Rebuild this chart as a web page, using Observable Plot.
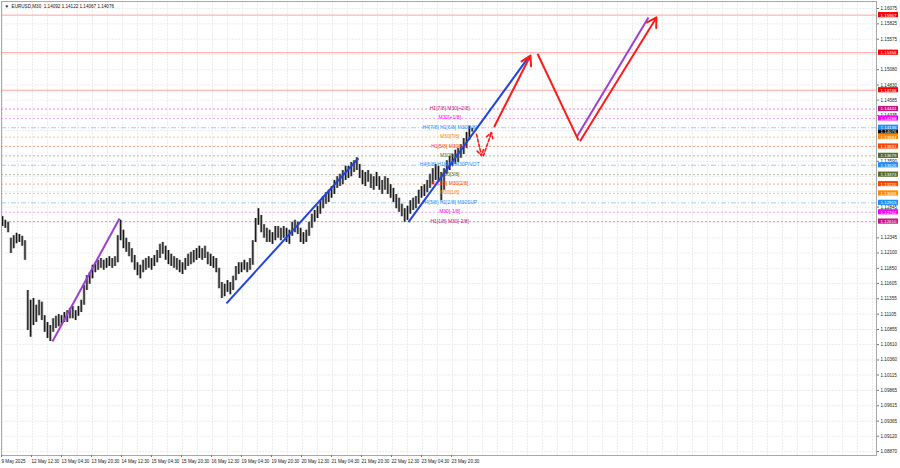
<!DOCTYPE html>
<html><head><meta charset="utf-8">
<script src="https://cdn.jsdelivr.net/npm/d3@7"></script>
<script src="https://cdn.jsdelivr.net/npm/@observablehq/plot@0.6"></script>
<style>html,body{margin:0;padding:0;background:#fff;overflow:hidden}svg{display:block}</style>
</head><body><div id="chart"></div>
<script>
// ---- data ----
const symbolHeader = "▼  EURUSD,M30  1.14092 1.14122 1.14067 1.14076";
const sampleStep = 3; // M30 bars between samples
const highs = [1.1269,1.1263,1.1260,1.1234,1.1238,1.1242,1.1240,1.1237,1.1230,1.1149,
1.1133,1.1136,1.1125,1.1133,1.1130,1.1108,1.1097,1.1092,1.1103,1.1107,
1.1110,1.1108,1.1113,1.1116,1.1120,1.1123,1.1116,1.1123,1.1133,1.1157,
1.1173,1.1178,1.1190,1.1194,1.1198,1.1201,1.1198,1.1201,1.1204,1.1201,
1.1204,1.1238,1.1263,1.1247,1.1234,1.1227,1.1217,1.1206,1.1194,1.1190,
1.1198,1.1201,1.1204,1.1201,1.1206,1.1214,1.1224,1.1227,1.1221,1.1214,
1.1208,1.1204,1.1201,1.1198,1.1194,1.1201,1.1208,1.1211,1.1214,1.1217,
1.1221,1.1217,1.1221,1.1211,1.1208,1.1204,1.1201,1.1185,1.1162,1.1159,
1.1165,1.1162,1.1172,1.1188,1.1194,1.1194,1.1198,1.1194,1.1201,1.1230,
1.1266,1.1282,1.1271,1.1256,1.1250,1.1247,1.1243,1.1253,1.1253,1.1250,
1.1253,1.1250,1.1247,1.1260,1.1263,1.1260,1.1250,1.1243,1.1247,1.1260,
1.1273,1.1279,1.1286,1.1295,1.1302,1.1308,1.1312,1.1318,1.1328,1.1334,
1.1338,1.1344,1.1351,1.1351,1.1357,1.1360,1.1365,1.1354,1.1344,1.1341,
1.1344,1.1338,1.1334,1.1341,1.1334,1.1328,1.1334,1.1331,1.1321,1.1315,
1.1305,1.1299,1.1289,1.1282,1.1286,1.1295,1.1299,1.1302,1.1312,1.1318,
1.1321,1.1328,1.1338,1.1347,1.1354,1.1351,1.1341,1.1347,1.1360,1.1367,
1.1370,1.1377,1.1380,1.1386,1.1396,1.1406,1.1416,1.14122];
const lows = [1.1253,1.1250,1.1243,1.1209,1.1217,1.1225,1.1227,1.1221,1.1198,1.1084,
1.1073,1.1092,1.1097,1.1108,1.1100,1.1081,1.1071,1.1066,1.1081,1.1087,
1.1090,1.1092,1.1097,1.1097,1.1103,1.1103,1.1100,1.1107,1.1113,1.1125,
1.1149,1.1159,1.1168,1.1178,1.1182,1.1185,1.1182,1.1185,1.1188,1.1185,
1.1188,1.1194,1.1230,1.1217,1.1211,1.1204,1.1194,1.1182,1.1173,1.1168,
1.1178,1.1182,1.1185,1.1182,1.1188,1.1194,1.1201,1.1208,1.1198,1.1191,
1.1188,1.1185,1.1182,1.1178,1.1175,1.1182,1.1188,1.1191,1.1194,1.1198,
1.1201,1.1198,1.1201,1.1191,1.1188,1.1185,1.1178,1.1152,1.1136,1.1139,
1.1146,1.1142,1.1149,1.1165,1.1175,1.1178,1.1182,1.1178,1.1182,1.1190,
1.1227,1.1255,1.1243,1.1234,1.1227,1.1227,1.1224,1.1230,1.1234,1.1230,
1.1234,1.1227,1.1224,1.1237,1.1243,1.1240,1.1227,1.1224,1.1227,1.1237,
1.1250,1.1260,1.1266,1.1273,1.1282,1.1289,1.1292,1.1299,1.1305,1.1315,
1.1318,1.1321,1.1328,1.1331,1.1334,1.1341,1.1344,1.1331,1.1321,1.1318,
1.1325,1.1315,1.1312,1.1318,1.1312,1.1305,1.1312,1.1305,1.1299,1.1292,
1.1282,1.1276,1.1269,1.1260,1.1263,1.1273,1.1279,1.1282,1.1289,1.1299,
1.1302,1.1308,1.1315,1.1321,1.1328,1.1325,1.1295,1.1312,1.1338,1.1344,
1.1351,1.1354,1.1357,1.1364,1.1370,1.1380,1.1393,1.14067];

const timeLabels = ["9 May 2025","12 May 12:30","13 May 04:30","13 May 20:30","14 May 12:30","15 May 04:30","15 May 20:30","16 May 12:30","19 May 04:30","19 May 20:30","20 May 12:30","21 May 04:30","21 May 20:30","22 May 12:30","23 May 04:30","23 May 20:30"];
const barsPerTimeLabel = 32;

const priceTicks = [1.16075,1.15825,1.15575,1.15330,1.15080,1.14830,1.14585,1.14335,1.14090,1.13840,1.13590,1.13345,1.13095,1.12845,1.12600,1.12345,1.12100,1.11850,1.11605,1.11355,1.11105,1.10855,1.10610,1.10360,1.10115,1.09865,1.09615,1.09365,1.09120,1.08870];

const levelPrices = [1.15967,1.15356,1.14746,1.14441,1.14288,1.14136,1.13984,1.13831,1.13679,1.13526,1.13373,1.13220,1.13068,1.12915,1.12762,1.12610];
const levelNames = ["","","","H1[7/8] M30[+2/8]","M30[+1/8]","H4[7/8] H1[6/8] M30[8/8]","M30[7/8]","H1[5/8] M30[6/8]","M30[5/8]","H4[6/8] H1[4/8] M30PIVOT","M30[3/8]","H1[3/8] M30[2/8]","M30[1/8]","H4[5/8] H1[2/8] M30SUP","M30[-1/8]","H1[1/8] M30[-2/8]"];
const levelKinds = ["h4","h4","h4","vr","mg","bl","or","rd","ol","bl","ol","rd","or","bl","mg","vr"];
const currentPrice = 1.14076;

// drawn trend lines & forecast arrows: [bar, price] pairs
const lineBars1 = [53.3, 238.9, 433, 612.3];
const linePrices1 = [1.1066, 1.1128, 1.1260, 1.1398];
const lineBars2 = [124.8, 379.7, 561, 689];
const linePrices2 = [1.1266, 1.1364, 1.1528, 1.1593];
const lineKinds = ["purple","blue","blue","purple"];

const arrowBars1 = [505.6, 513, 524.8, 570.7, 616.5];
const arrowPrices1 = [1.1403, 1.1368, 1.1416, 1.1534, 1.1393];
const arrowBars2 = [511, 521.6, 563.2, 614.4, 697.6];
const arrowPrices2 = [1.1368, 1.1406, 1.1531, 1.1393, 1.1593];
const arrowDashed = [true, true, false, false, false];
const arrowHead = [true, true, true, false, true];

// ---- styles ----
const kindBox = {h4:"#ff0000", vr:"#c71585", mg:"#ff00ff", bl:"#1e90ff", or:"#ff8c00", rd:"#ff4500", ol:"#556b2f"};
const kindLine = {h4:"#ffa3a3", vr:"#e58bc5", mg:"#f6a0f6", bl:"#a4cdf6", or:"#f8c98f", rd:"#f7ab8e", ol:"#b5bea1"};
const trendColor = {purple:"#9b3fd6", blue:"#2244dd"};

// ---- layout ----
const W = 900, H = 468, mL = 1, mR = 24, mT = 1, mB = 13;
const pxPerBar = 0.9375, barOriginPx = 2;
const barAt = px => (px - barOriginPx) / pxPerBar;
const pricePerPx = 0.0001626, priceAtTop = 1.16205;
const priceAt = px => priceAtTop - pricePerPx * px;

const candles = highs.map((h, i) => ({bar: i * sampleStep, hi: h, lo: lows[i]}));
const lastBar = (highs.length - 1) * sampleStep;
const levels = levelPrices.map((p, i) => ({price: p, name: levelNames[i], kind: levelKinds[i]}));
const trends = lineBars1.map((b, i) => ({x1: b, y1: linePrices1[i], x2: lineBars2[i], y2: linePrices2[i], kind: lineKinds[i]}));
const arrows = arrowBars1.map((b, i) => ({x1: b, y1: arrowPrices1[i], x2: arrowBars2[i], y2: arrowPrices2[i], dashed: arrowDashed[i], head: arrowHead[i]}));
const timeTickBars = timeLabels.map((_, i) => i * barsPerTimeLabel);
const gridBars = d3.range(0, barAt(W - mR), barsPerTimeLabel / 2);
const labelBar = lastBar - 24;

const boxHalf = pricePerPx * 2.6;
const boxX1 = barAt(878), boxX2 = barAt(898), boxXc = barAt(888);
const FONT = "Liberation Sans, Arial, sans-serif";

const boxPrices = levelPrices.concat([currentPrice]);
const shownTicks = priceTicks.filter(t => d3.min(boxPrices, p => Math.abs(p - t)) / pricePerPx > 2.5);

const boxLevels = levels.filter(d => d.kind !== "bl");
const blueLevels = levels.filter(d => d.kind === "bl");

const plot = Plot.plot({
  width: W, height: H,
  marginLeft: mL, marginRight: mR, marginTop: mT, marginBottom: mB,
  style: {fontFamily: FONT, background: "#fff", overflow: "visible"},
  x: {domain: [barAt(mL), barAt(W - mR)], axis: null},
  y: {domain: [priceAt(H - mB), priceAt(mT)], axis: null},
  marks: [
    Plot.ruleX(gridBars, {stroke: "#ececec", strokeWidth: 1, strokeDasharray: "2,1"}),
    Plot.ruleY(priceTicks, {stroke: "#ececec", strokeWidth: 1, strokeDasharray: "2,1"}),
    Plot.ruleY(levels.filter(d => d.kind === "h4"), {y: "price", stroke: d => kindLine[d.kind], strokeWidth: 1}),
    Plot.ruleY(levels.filter(d => d.kind === "bl"), {y: "price", stroke: d => kindLine[d.kind], strokeDasharray: "5,2,1,2"}),
    Plot.ruleY(levels.filter(d => d.kind !== "bl" && d.kind !== "h4"), {y: "price", stroke: d => kindLine[d.kind], strokeDasharray: "2,2"}),
    Plot.ruleX(candles, {x: "bar", y1: "lo", y2: "hi", stroke: "#a8a8a8", strokeWidth: 2.8}),
    Plot.ruleX(candles, {x: "bar", y1: "lo", y2: "hi", stroke: "#161616", strokeWidth: 1.2}),
    Plot.text(levels.filter(d => d.name), {x: labelBar, y: "price", text: "name", fill: d => kindBox[d.kind], fontSize: 5, lineAnchor: "bottom", dy: 1}),
    Plot.link(trends, {x1: "x1", y1: "y1", x2: "x2", y2: "y2", stroke: d => trendColor[d.kind], strokeWidth: 2}),
    Plot.arrow(arrows.filter(d => d.dashed), {x1: "x1", y1: "y1", x2: "x2", y2: "y2", stroke: "#ff1a1a", strokeWidth: 1.6, strokeDasharray: "3,2", headLength: 6}),
    Plot.arrow(arrows.filter(d => !d.dashed && d.head), {x1: "x1", y1: "y1", x2: "x2", y2: "y2", stroke: "#ff1a1a", strokeWidth: 2, headLength: 8}),
    Plot.link(arrows.filter(d => !d.head), {x1: "x1", y1: "y1", x2: "x2", y2: "y2", stroke: "#ff1a1a", strokeWidth: 2}),
    Plot.frame({stroke: "#a8a8a8"}),
    Plot.axisY(shownTicks, {anchor: "right", tickFormat: d => d.toFixed(5), fontSize: 4.6, tickSize: 2, tickPadding: 2, stroke: "#777", fill: "#222", label: null}),
    Plot.axisX(timeTickBars, {anchor: "bottom", tickFormat: d => timeLabels[Math.round(d / barsPerTimeLabel)], textAnchor: "start", fontSize: 4.6, tickSize: 2, tickPadding: 2, dx: -1, stroke: "#777", fill: "#222", label: null}),
    Plot.rect(boxLevels, {x1: boxX1, x2: boxX2, y1: d => d.price - boxHalf, y2: d => d.price + boxHalf, fill: d => kindBox[d.kind]}),
    Plot.text(boxLevels, {x: boxXc, y: "price", text: d => d.price.toFixed(5), fill: "#fff", fontSize: 4.4}),
    Plot.rect([currentPrice], {x1: boxX1, x2: boxX2, y1: d => d - boxHalf, y2: d => d + boxHalf, fill: "#000"}),
    Plot.text([currentPrice], {x: boxXc, y: d => d, text: d => d.toFixed(5), fill: "#fff", fontSize: 4.4}),
    Plot.rect(blueLevels, {x1: boxX1, x2: boxX2, y1: d => d.price - boxHalf, y2: d => d.price + boxHalf, fill: d => kindBox[d.kind]}),
    Plot.text(blueLevels, {x: boxXc, y: "price", text: d => d.price.toFixed(5), fill: "#fff", fontSize: 4.4}),
    Plot.text([symbolHeader], {frameAnchor: "top-left", dx: 3, dy: 3, fontSize: 4.6, fill: "#111", lineAnchor: "top"})
  ]
});
document.getElementById("chart").appendChild(plot);
</script>
</body></html>
